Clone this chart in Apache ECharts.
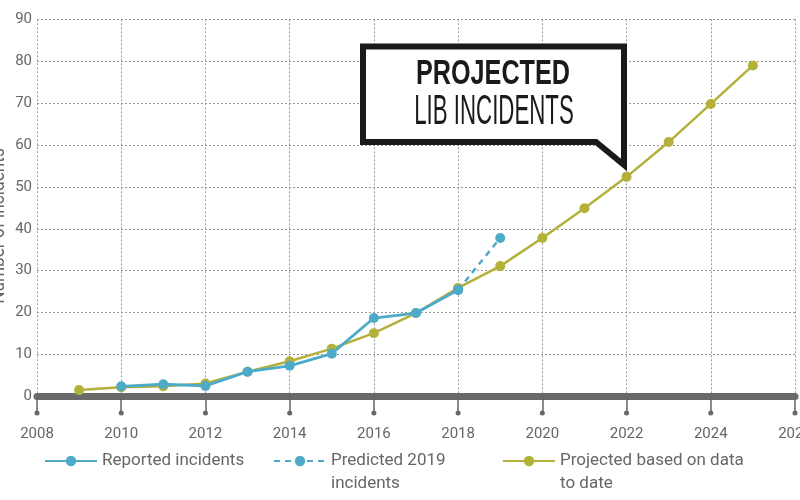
<!DOCTYPE html>
<html>
<head>
<meta charset="utf-8">
<script src="https://cdn.jsdelivr.net/npm/echarts@6/dist/echarts.min.js"></script>
<style>
  html, body { margin: 0; padding: 0; background: #fff; }
  #chart { width: 800px; height: 500px; }
</style>
</head>
<body>
<div id="chart"></div>
<script>
// values
const projYears = [2009, 2010, 2011, 2012, 2013, 2014, 2015, 2016, 2017, 2018, 2019, 2020, 2021, 2022, 2023, 2024, 2025];
const projected = [1.5, 2.2, 2.4, 3.1, 5.9, 8.4, 11.4, 15.1, 19.9, 25.9, 31.1, 37.8, 44.9, 52.4, 60.7, 69.8, 79.0];

const repYears = [2010, 2011, 2012, 2013, 2014, 2015, 2016, 2017, 2018];
const reported = [2.4, 2.9, 2.5, 5.9, 7.3, 10.2, 18.7, 19.9, 25.4];

const predYears = [2018, 2019];
const predicted = [25.4, 37.8];

const tickYears = [2008, 2010, 2012, 2014, 2016, 2018, 2020, 2022, 2024, 2026];

const BLUE = '#4eaac9';
const OLIVE = '#b3b13a';
const FONT = 'Roboto, sans-serif';

const pairs = (xs, ys) => xs.map((x, i) => [x, ys[i]]);

const chart = echarts.init(document.getElementById('chart'), null, { renderer: 'canvas' });

const legendBase = {
  orient: 'horizontal',
  padding: 0,
  itemWidth: 52,
  itemHeight: 13,
  textStyle: { color: '#666', fontSize: 17, fontFamily: FONT, lineHeight: 23 }
};

// two-line legend names: an empty line on top keeps the first line level with the icon
const topAligned = name => '\n' + name;

const option = {
  animation: false,
  backgroundColor: '#fff',
  grid: { left: 37, right: 5, top: 19.3, bottom: 103.6, outerBoundsMode: 'none', containLabel: false },
  legend: [
    Object.assign({}, legendBase, { left: 44, top: 449.5, data: ['Reported incidents'] }),
    Object.assign({}, legendBase, { left: 273, top: 426.5, data: ['Predicted 2019\nincidents'], formatter: topAligned }),
    Object.assign({}, legendBase, { left: 502, top: 426.5, data: ['Projected based on data\nto date'], formatter: topAligned })
  ],
  xAxis: {
    type: 'value',
    min: 2008,
    max: 2026,
    interval: 2,
    axisLine: { show: true, onZero: false, lineStyle: { color: '#6a6a6a', width: 7 } },
    axisTick: { show: true, length: 16, lineStyle: { color: '#666', width: 1.5 } },
    axisLabel: { color: '#666', fontSize: 15, fontFamily: FONT, margin: 30, formatter: v => String(v) },
    splitLine: { show: true, lineStyle: { color: '#999', width: 1, type: [2, 2] } }
  },
  yAxis: {
    type: 'value',
    min: 0,
    max: 90,
    interval: 10,
    axisLine: { show: false },
    axisTick: { show: false },
    axisLabel: { color: '#666', fontSize: 15, fontFamily: FONT, margin: 5 },
    splitLine: { show: true, lineStyle: { color: '#999', width: 1, type: [2, 2] } }
  },
  series: [
    {
      name: 'Projected based on data\nto date',
      type: 'line',
      data: pairs(projYears, projected),
      symbol: 'circle',
      symbolSize: 10,
      lineStyle: { color: OLIVE, width: 2.5 },
      itemStyle: { color: OLIVE },
      z: 2
    },
    {
      name: 'Predicted 2019\nincidents',
      type: 'line',
      data: pairs(predYears, predicted),
      symbol: 'circle',
      symbolSize: 10,
      lineStyle: { color: BLUE, width: 2.5, type: [6, 5] },
      itemStyle: { color: BLUE },
      z: 3
    },
    {
      name: 'Reported incidents',
      type: 'line',
      data: pairs(repYears, reported),
      symbol: 'circle',
      symbolSize: 10,
      lineStyle: { color: BLUE, width: 2.8 },
      itemStyle: { color: BLUE },
      z: 4
    },
    {
      // little dots at the end of the x-axis ticks
      type: 'custom',
      data: tickYears.map(y => [y, 0]),
      clip: false,
      silent: true,
      z: 5,
      renderItem: (params, api) => {
        const p = api.coord([api.value(0), 0]);
        return { type: 'circle', shape: { cx: p[0], cy: p[1] + 16.5, r: 2.5 }, style: { fill: '#666' } };
      }
    }
  ],
  graphic: [
    {
      type: 'text',
      x: -1, y: 226,
      rotation: Math.PI / 2,
      scaleX: 0.82,
      style: {
        text: 'Number of incidents',
        font: '21px Roboto, sans-serif',
        fill: '#666',
        align: 'center', verticalAlign: 'middle',
        textAlign: 'center', textVerticalAlign: 'middle'
      }
    },
    {
      type: 'polygon',
      z: 50,
      shape: { points: [[363, 46.5], [624, 46.5], [624, 165], [596, 142], [363, 142]] },
      style: { fill: '#fff', stroke: '#1a1a1a', lineWidth: 6, lineJoin: 'miter' }
    },
    {
      type: 'text',
      z: 51,
      x: 493, y: 74,
      scaleX: 0.72,
      style: {
        text: 'PROJECTED',
        font: 'bold 35px "Liberation Sans", sans-serif',
        fill: '#1a1a1a',
        align: 'center', verticalAlign: 'middle',
        textAlign: 'center', textVerticalAlign: 'middle'
      }
    },
    {
      type: 'text',
      z: 51,
      x: 494, y: 112,
      scaleX: 0.53,
      style: {
        text: 'LIB INCIDENTS',
        font: '42px "Liberation Sans", sans-serif',
        fill: '#1a1a1a',
        align: 'center', verticalAlign: 'middle',
        textAlign: 'center', textVerticalAlign: 'middle'
      }
    }
  ]
};

chart.setOption(option);
</script>
</body>
</html>
